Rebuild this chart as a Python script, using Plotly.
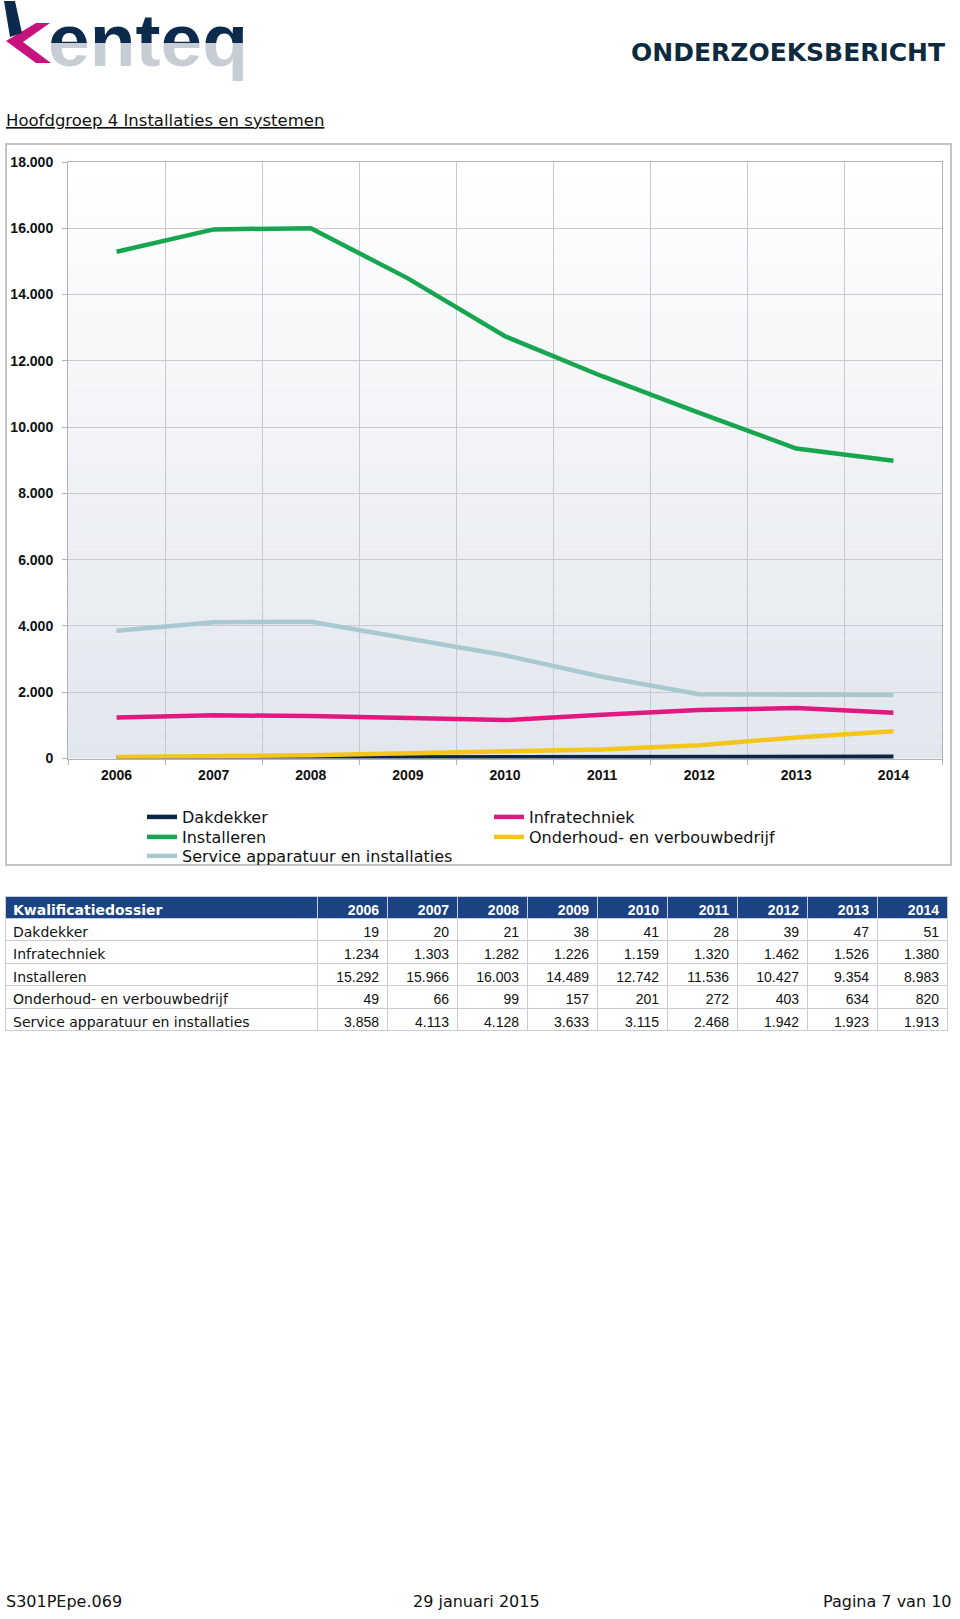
import plotly.graph_objects as go

# ---------------- data ----------------
years = ["2006", "2007", "2008", "2009", "2010", "2011", "2012", "2013", "2014"]
series_names = ["Dakdekker", "Infratechniek", "Installeren",
                "Onderhoud- en verbouwbedrijf", "Service apparatuur en installaties"]
dakdekker = [19, 20, 21, 38, 41, 28, 39, 47, 51]
infratechniek = [1234, 1303, 1282, 1226, 1159, 1320, 1462, 1526, 1380]
installeren = [15292, 15966, 16003, 14489, 12742, 11536, 10427, 9354, 8983]
onderhoud = [49, 66, 99, 157, 201, 272, 403, 634, 820]
service = [3858, 4113, 4128, 3633, 3115, 2468, 1942, 1923, 1913]
table_header_label = "Kwalificatiedossier"

series_values = [dakdekker, infratechniek, installeren, onderhoud, service]
colors = ["#0b2545", "#e0187f", "#17a550", "#f5c51c", "#a9c9d1"]
legend_ids = ["legend", "legend", "legend2", "legend2", "legend3"]

# ---------------- helpers ----------------
W, H = 960, 1619


def px_x(v):
    return v / W


def px_y(v):
    return 1 - v / H


def nl(v):
    return f"{v:,}".replace(",", ".")


def path(points):
    s = "M " + " L ".join(f"{px_x(x):.5f},{px_y(y):.5f}" for x, y in points) + " Z"
    return s


fig = go.Figure()

# ---------------- line chart ----------------
for name, vals, col, lg in zip(series_names, series_values, colors, legend_ids):
    fig.add_trace(go.Scatter(
        x=years, y=vals, name=name, mode="lines",
        line=dict(color=col, width=4.5), legend=lg,
        cliponaxis=False, hovertemplate="%{x}: %{y:,d}<extra>" + name + "</extra>",
    ))

# ---------------- logo text ----------------
fig.add_trace(go.Scatter(x=[148], y=[47], mode="text", text=["enteq"],
                         textfont=dict(family="Liberation Sans", size=75, weight="bold",
                                       color="#0c2a4b"),
                         xaxis="x2", yaxis="y2", showlegend=False,
                         hoverinfo="skip", cliponaxis=False))

# ---------------- table ----------------
fams = ["DejaVu Sans"] + ["Liberation Sans"] * len(years)
aligns = ["left"] + ["right"] * len(years)
header_vals = [table_header_label] + years
cell_cols = [series_names] + [[nl(s[i]) for s in series_values] for i in range(len(years))]
fig.add_trace(go.Table(
    domain=dict(x=[px_x(5), px_x(947)], y=[px_y(1045), px_y(896)]),
    columnwidth=[312] + [70] * len(years),
    header=dict(values=header_vals,
                fill_color="#1b4282",
                line=dict(color="#c6cdd8", width=1),
                align=aligns,
                font=dict(family=fams, size=14, color="white", weight="bold"),
                height=22),
    cells=dict(values=cell_cols,
               fill_color="white",
               line=dict(color="#c6cdd8", width=1),
               align=aligns,
               font=dict(family=fams, size=14, color="#111111"),
               height=22.5),
))

# ---------------- shapes ----------------
shapes = []
# gradient background of the plot area
n_bands = 40
c_top = (255, 255, 255)
c_bot = (226, 230, 237)
for i in range(n_bands):
    t = (i + 0.5) / n_bands
    c = tuple(round(c_top[k] + (c_bot[k] - c_top[k]) * t) for k in range(3))
    shapes.append(dict(type="rect", xref="x domain", yref="y domain",
                       x0=0, x1=1, y0=1 - (i + 1) / n_bands, y1=1 - i / n_bands,
                       fillcolor=f"rgb{c}", line=dict(width=0), layer="below"))
# chart outer frame
shapes.append(dict(type="rect", xref="paper", yref="paper",
                   x0=px_x(6), x1=px_x(951), y0=px_y(865), y1=px_y(144),
                   line=dict(color="#c4c4c4", width=2), fillcolor="rgba(0,0,0,0)"))
# logo: pale "reflection" veil over the lower half of the letters
shapes.append(dict(type="rect", xref="paper", yref="paper",
                   x0=px_x(46), x1=px_x(258), y0=px_y(96), y1=px_y(43),
                   fillcolor="white", opacity=0.77, line=dict(width=0), layer="above"))
# logo "k"
shapes.append(dict(type="path", xref="paper", yref="paper",
                   path=path([(50, 23), (36, 23), (6, 41), (36, 63), (51, 63), (23, 42)]),
                   fillcolor="#c8137e", line=dict(width=0)))
shapes.append(dict(type="path", xref="paper", yref="paper",
                   path=path([(4, 1), (15, 1), (22, 33), (10, 37)]),
                   fillcolor="#0c2a4b", line=dict(width=0)))

# ---------------- annotations ----------------
annotations = [
    dict(text="ONDERZOEKSBERICHT", xref="paper", yref="paper",
         x=px_x(947), y=px_y(52), xanchor="right", yanchor="middle", showarrow=False,
         font=dict(family="DejaVu Sans", size=25, color="#0e2a3f", weight="bold")),
    dict(text="<u>Hoofdgroep 4 Installaties en systemen</u>", xref="paper", yref="paper",
         x=px_x(4), y=px_y(120), xanchor="left", yanchor="middle", showarrow=False,
         font=dict(family="DejaVu Sans", size=16.5, color="#111111")),
    dict(text="S301PEpe.069", xref="paper", yref="paper",
         x=px_x(4), y=px_y(1601), xanchor="left", yanchor="middle", showarrow=False,
         font=dict(family="DejaVu Sans", size=16, color="#111111")),
    dict(text="29 januari 2015", xref="paper", yref="paper",
         x=px_x(476), y=px_y(1601), xanchor="center", yanchor="middle", showarrow=False,
         font=dict(family="DejaVu Sans", size=16, color="#111111")),
    dict(text="Pagina 7 van 10", xref="paper", yref="paper",
         x=px_x(954), y=px_y(1601), xanchor="right", yanchor="middle", showarrow=False,
         font=dict(family="DejaVu Sans", size=16, color="#111111")),
]

axis_font = dict(family="Liberation Sans", size=14, color="#111111", weight="bold")
grid_col = "#c6cad0"
line_col = "#b0b4ba"
legend_common = dict(orientation="h", xanchor="left", yanchor="middle",
                     font=dict(family="DejaVu Sans", size=16, color="#111111"),
                     bgcolor="rgba(0,0,0,0)", itemwidth=30,
                     entrywidth=302, entrywidthmode="pixels")

fig.update_layout(
    width=W, height=H,
    margin=dict(l=0, r=0, t=0, b=0, autoexpand=False),
    paper_bgcolor="white", plot_bgcolor="rgba(0,0,0,0)",
    separators=",.",
    shapes=shapes, annotations=annotations,
    xaxis=dict(type="category", domain=[px_x(68), px_x(942)], anchor="y",
               range=[-0.5, len(years) - 0.5], automargin=False,
               tickson="boundaries", showgrid=True, gridcolor=grid_col, gridwidth=1,
               showline=True, linecolor=line_col, mirror=True,
               ticks="outside", ticklen=5, tickcolor=line_col,
               tickfont=axis_font, ticklabelstandoff=4, layer="below traces",
               fixedrange=True),
    yaxis=dict(domain=[px_y(758.5), px_y(162)], anchor="x", automargin=False,
               range=[0, 18000], dtick=2000, tickformat=",d",
               showgrid=True, gridcolor=grid_col, gridwidth=1,
               showline=True, linecolor=line_col, mirror=True, zeroline=False,
               ticks="outside", ticklen=5, tickcolor=line_col,
               tickfont=axis_font, ticklabelstandoff=6, layer="below traces",
               fixedrange=True),
    xaxis2=dict(domain=[0, px_x(260)], range=[0, 260], anchor="y2", visible=False, fixedrange=True),
    yaxis2=dict(domain=[px_y(96), px_y(0)], range=[96, 0], anchor="x2", visible=False, fixedrange=True),
    legend=dict(x=px_x(142), y=px_y(817), **legend_common),
    legend2=dict(x=px_x(142), y=px_y(837), **legend_common),
    legend3=dict(x=px_x(142), y=px_y(856), **legend_common),
    showlegend=True,
)

fig.write_html(
    "out.html",
    config={"displayModeBar": False},
    post_script=("document.body.style.margin='0px';"
                 "document.body.style.overflow='hidden';"
                 "document.documentElement.style.overflow='hidden';"),
)
